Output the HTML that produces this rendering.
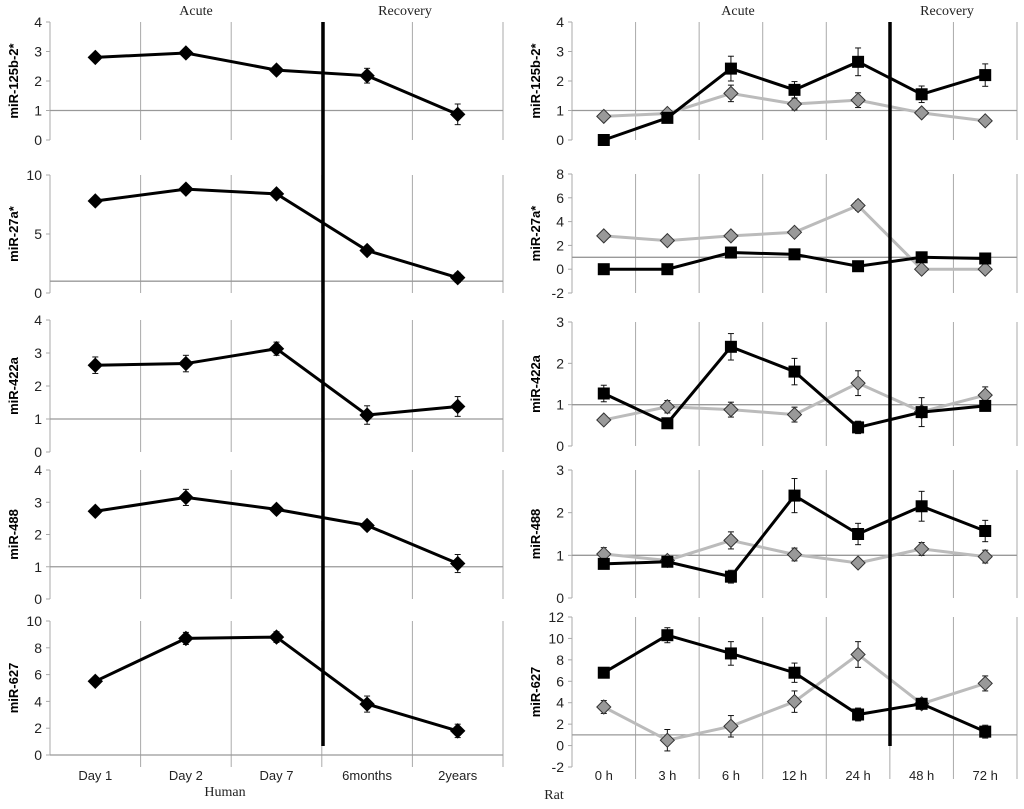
<!DOCTYPE html>
<html><head><meta charset="utf-8"><style>
body{margin:0;background:#fff;}
svg text{font-family:"Liberation Sans",sans-serif;}
</style></head><body>
<svg id="c" width="1024" height="804" xmlns="http://www.w3.org/2000/svg"></svg>
<script>
const humanCats=["Day 1","Day 2","Day 7","6months","2years"];
const ratCats=["0 h","3 h","6 h","12 h","24 h","48 h","72 h"];
const genes=["miR-125b-2*","miR-27a*","miR-422a","miR-488","miR-627"];
const humanVals=[[2.8,2.95,2.37,2.18,0.87],[7.8,8.8,8.4,3.6,1.3],[2.63,2.68,3.13,1.12,1.38],[2.72,3.15,2.78,2.28,1.1],[5.5,8.7,8.8,3.8,1.8]];
const humanErr=[[0.1,0.12,0.1,0.25,0.35],[0.2,0.3,0.2,0.3,0.4],[0.25,0.25,0.2,0.28,0.3],[0.1,0.25,0.1,0.12,0.28],[0.3,0.45,0.4,0.6,0.5]];
const ratBlack=[[0,0.75,2.42,1.7,2.65,1.55,2.2],[0,0,1.4,1.25,0.25,1.0,0.9],[1.27,0.55,2.4,1.8,0.45,0.82,0.97],[0.8,0.85,0.5,2.4,1.5,2.15,1.57],[6.8,10.3,8.6,6.8,2.9,3.9,1.3]];
const ratBlackErr=[[0,0.1,0.42,0.28,0.47,0.28,0.38],[0,0,0.2,0.2,0.2,0.2,0.2],[0.2,0.05,0.32,0.32,0.15,0.35,0.12],[0.05,0.1,0.15,0.4,0.25,0.35,0.25],[0.3,0.7,1.1,0.9,0.6,0.4,0.6]];
const ratGray=[[0.8,0.9,1.58,1.22,1.35,0.92,0.65],[2.8,2.4,2.8,3.1,5.35,0,0],[0.63,0.95,0.88,0.76,1.52,0.83,1.23],[1.03,0.88,1.35,1.02,0.82,1.15,0.97],[3.6,0.5,1.8,4.1,8.5,3.9,5.8]];
const ratGrayErr=[[0,0,0.28,0.2,0.25,0,0],[0.1,0.1,0.1,0.1,0.4,0,0],[0.05,0.15,0.18,0.18,0.3,0.1,0.2],[0.15,0.05,0.2,0.15,0.1,0.15,0.15],[0.6,1,1,1,1.2,0.3,0.7]];
const humanTicks=[[0,1,2,3,4],[0,5,10],[0,1,2,3,4],[0,1,2,3,4],[0,2,4,6,8,10]];
const ratTicks=[[0,1,2,3,4],[-2,0,2,4,6,8],[0,1,2,3],[0,1,2,3],[-2,0,2,4,6,8,10,12]];
const humanRef=[1,1,1,1,0];
const ratRef=[1,1,1,1,1];
// layout
const humanBox=[[22,140,0,4],[175,293,0,10],[320,452,0,4],[470,599,0,4],[621,755,0,10]];
const ratBox=[[22,140,0,4],[174,293,-2,8],[322,446,0,3],[470,598,0,3],[617,767,-2,12]];
const svg=document.getElementById('c');const NS="http://www.w3.org/2000/svg";
function mk(t,a,p){const e=document.createElementNS(NS,t);for(const k in a)e.setAttribute(k,a[k]);(p||svg).appendChild(e);return e;}
function txt(s,a){const e=mk('text',a);e.textContent=s;return e;}
function panel(side,x0,x1,cats,boxes,ticks,refs,series){
  const n=cats.length,w=(x1-x0)/n;
  const xs=i=>x0+w*(i+0.5);
  boxes.forEach((b,k)=>{
    const [yt,yb,mn,mx]=b;const ys=v=>yb-(v-mn)/(mx-mn)*(yb-yt);
    const g=mk('g',{});
    for(let i=1;i<=n;i++){const gx=x0+w*i;mk('line',{x1:gx,x2:gx,y1:yt,y2:yb+(k==4?12:0),stroke:'#aaa','stroke-width':1},g);}
    mk('line',{x1:x0,x2:x0,y1:yt,y2:yb,stroke:'#aaa'},g);
    mk('line',{x1:x0,x2:x1,y1:ys(refs[k]),y2:ys(refs[k]),stroke:'#999','stroke-width':1.3},g);
    ticks[k].forEach(t=>{mk('line',{x1:x0-4,x2:x0,y1:ys(t),y2:ys(t),stroke:'#aaa'},g);
      const e=txt(String(t),{x:x0-8,y:ys(t)+5,'font-size':14,'text-anchor':'end',fill:'#222'});});
    const cy=(yt+yb)/2,cx=x0-32;
    const ti=txt(genes[k],{x:cx,y:cy,'font-size':13,'font-weight':'bold','text-anchor':'middle',transform:`rotate(-90 ${cx} ${cy})`});
    
    series.forEach(s=>{
      const vals=s.vals[k],err=s.err[k];
      const pl=mk('polyline',{points:vals.map((v,i)=>xs(i)+','+ys(v)).join(' '),fill:'none',stroke:s.color,'stroke-width':3},g);
      
      vals.forEach((v,i)=>{const x=xs(i),y=ys(v),e=err[i];
        if(e>0){const a=ys(v+e),b2=ys(v-e);mk('line',{x1:x,x2:x,y1:a,y2:b2,stroke:'#111'},g);mk('line',{x1:x-3,x2:x+3,y1:a,y2:a,stroke:'#111'},g);mk('line',{x1:x-3,x2:x+3,y1:b2,y2:b2,stroke:'#111'},g);}
        let m;
        if(s.shape=='sq')m=mk('rect',{x:x-6,y:y-6,width:12,height:12,fill:'#000'},g);
        else m=mk('polygon',{points:`${x},${y-7} ${x+7},${y} ${x},${y+7} ${x-7},${y}`,fill:s.fill,stroke:s.mstroke,'stroke-width':1},g);
        
      });
    });
  });
  cats.forEach((c,i)=>{const e=txt(c,{x:xs(i),y:780,'font-size':13,'text-anchor':'middle',fill:'#222'});});
}
panel('human',50,503,humanCats,humanBox,humanTicks,humanRef,[{name:'human',vals:humanVals,err:humanErr,color:'#000',shape:'dia',fill:'#000',mstroke:'#000'}]);
panel('rat',572,1017,ratCats,ratBox,ratTicks,ratRef,[
 {name:'rat-gray',vals:ratGray,err:ratGrayErr,color:'#bbb',shape:'dia',fill:'#999',mstroke:'#333'},
 {name:'rat-black',vals:ratBlack,err:ratBlackErr,color:'#000',shape:'sq'}]);
function thick(x,n){const l=mk('line',{x1:x,x2:x,y1:22,y2:746,stroke:'#000','stroke-width':3.5});}
thick(323,'human-phase-divider');thick(890,'rat-phase-divider');
[['Acute',196,'human-acute-label'],['Recovery',405,'human-recovery-label'],['Acute',738,'rat-acute-label'],['Recovery',947,'rat-recovery-label'],['Human',225,'human-x-title'],['Rat',554,'rat-x-title']].forEach(a=>{
  const y=(a[0]=='Human')?796:(a[0]=='Rat'?799:15);
  const e=txt(a[0],{x:a[1],y:y,'font-size':14,'text-anchor':'middle',style:'font-family:"Liberation Serif",serif',fill:'#222'});
  });
</script>
</body></html>
